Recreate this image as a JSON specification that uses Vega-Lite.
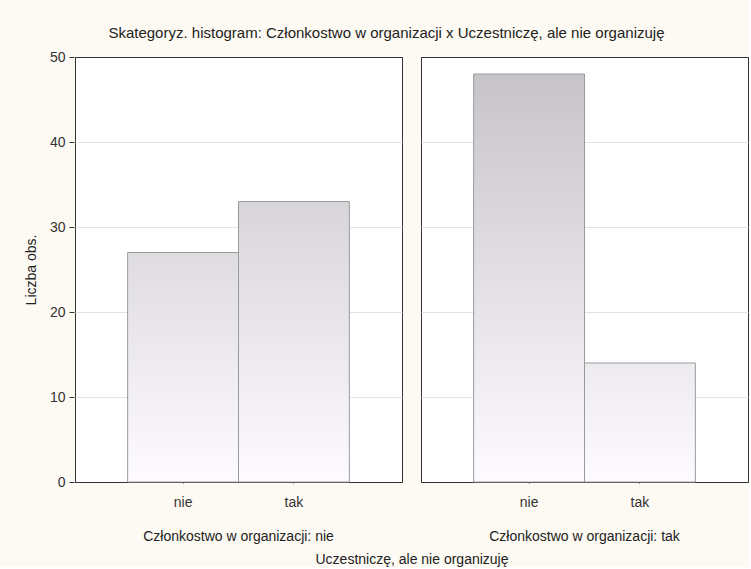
{
  "$schema": "https://vega.github.io/schema/vega-lite/v6.json",
  "background": "#fdfaf3",
  "padding": {"left": 24, "top": 26, "right": 0, "bottom": 0},
  "title": {
    "text": "Skategoryz. histogram: Członkostwo w organizacji x Uczestniczę, ale nie organizuję",
    "fontSize": 15,
    "fontWeight": "normal",
    "font": "Liberation Sans",
    "color": "#222",
    "anchor": "middle",
    "offset": 9
  },
  "data": {
    "values": [
      {"org": "nie", "ucz": "nie", "n": 27},
      {"org": "nie", "ucz": "tak", "n": 33},
      {"org": "tak", "ucz": "nie", "n": 48},
      {"org": "tak", "ucz": "tak", "n": 14}
    ]
  },
  "facet": {
    "column": {
      "field": "org",
      "type": "nominal",
      "header": {
        "labelOrient": "bottom",
        "titleOrient": "bottom",
        "labelExpr": "'Członkostwo w organizacji: ' + datum.value",
        "labelFontSize": 14,
        "labelFont": "Liberation Sans",
        "labelColor": "#222",
        "labelPadding": 21,
        "title": "Uczestniczę, ale nie organizuję",
        "titleFontSize": 14,
        "titleFont": "Liberation Sans",
        "titleFontWeight": "normal",
        "titleColor": "#222",
        "titlePadding": -1
      }
    }
  },
  "spacing": 17,
  "spec": {
    "width": 327,
    "height": 425,
    "mark": {
      "type": "bar",
      "stroke": "#9a9a9a",
      "strokeWidth": 1
    },
    "encoding": {
      "x": {
        "field": "ucz",
        "type": "nominal",
        "scale": {"paddingInner": 0, "paddingOuter": 0.475},
        "axis": {
          "title": null,
          "labelAngle": 0,
          "labelFontSize": 14,
          "labelFont": "Liberation Sans",
          "labelColor": "#333",
          "tickSize": -5,
          "tickColor": "#333",
          "labelPadding": 17,
          "domain": false
        }
      },
      "y": {
        "field": "n",
        "type": "quantitative",
        "scale": {"domain": [0, 50], "nice": false},
        "axis": {
          "title": "Liczba obs.",
          "titleFontSize": 14,
          "titleFont": "Liberation Sans",
          "titleFontWeight": "normal",
          "titleColor": "#222",
          "titlePadding": 11,
          "values": [0, 10, 20, 30, 40, 50],
          "labelFontSize": 14,
          "labelFont": "Liberation Sans",
          "labelColor": "#333",
          "labelPadding": 4,
          "tickSize": 5,
          "tickColor": "#333",
          "domain": false,
          "grid": true,
          "gridColor": {"condition": {"test": "datum.value == 0 || datum.value == 50", "value": "#333"}, "value": "#e2e2e2"}
        }
      },
      "fill": {
        "condition": [
          {"test": "datum.n == 27", "value": {"gradient": "linear", "x1": 0, "x2": 0, "y1": -0.852, "y2": 1, "stops": [{"offset": 0, "color": "#c4c2c6"}, {"offset": 1, "color": "#fdfbff"}]}},
          {"test": "datum.n == 33", "value": {"gradient": "linear", "x1": 0, "x2": 0, "y1": -0.515, "y2": 1, "stops": [{"offset": 0, "color": "#c4c2c6"}, {"offset": 1, "color": "#fdfbff"}]}},
          {"test": "datum.n == 48", "value": {"gradient": "linear", "x1": 0, "x2": 0, "y1": -0.042, "y2": 1, "stops": [{"offset": 0, "color": "#c4c2c6"}, {"offset": 1, "color": "#fdfbff"}]}}
        ],
        "value": {"gradient": "linear", "x1": 0, "x2": 0, "y1": -2.571, "y2": 1, "stops": [{"offset": 0, "color": "#c4c2c6"}, {"offset": 1, "color": "#fdfbff"}]}
      }
    }
  },
  "config": {
    "view": {"fill": "white", "stroke": "#333", "strokeWidth": 1}
  }
}
